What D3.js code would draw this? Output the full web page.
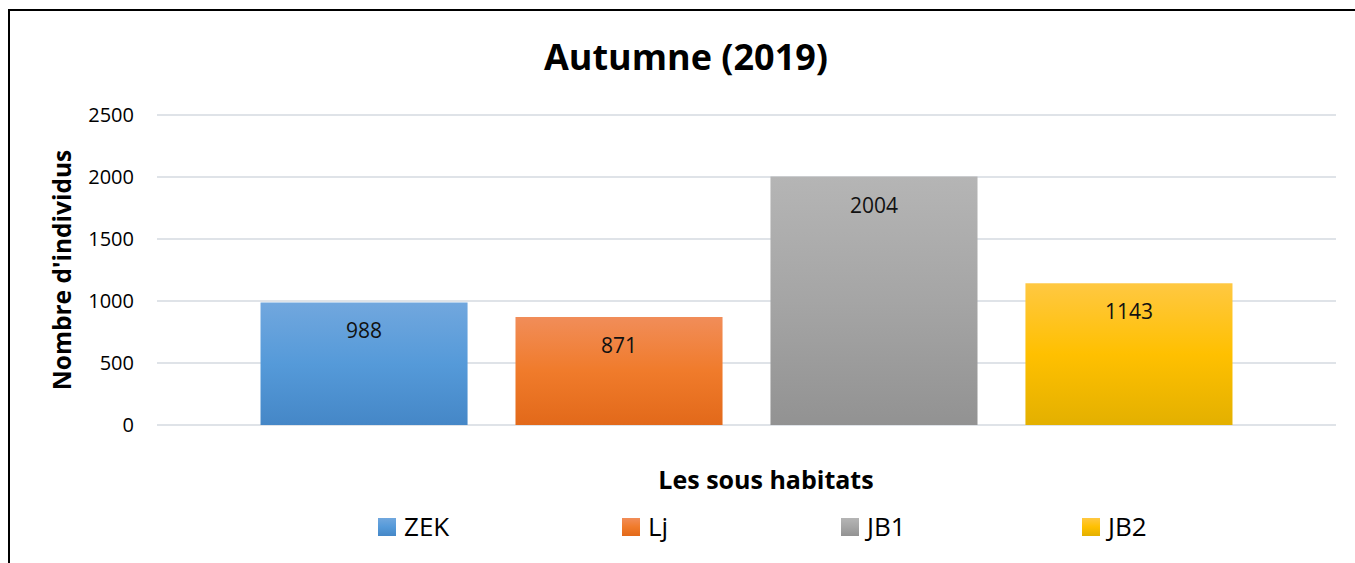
<!DOCTYPE html>
<html>
<head>
<meta charset="utf-8">
<script src="https://cdn.jsdelivr.net/npm/d3@7"></script>
<style>
  html, body { margin: 0; padding: 0; background: #fff; }
  svg { display: block; font-family: "Open Sans", "Liberation Sans", sans-serif; }
</style>
</head>
<body>
<svg id="chart" width="1355" height="563"></svg>
<script>
const categories = [""];
const seriesNames = ["ZEK", "Lj", "JB1", "JB2"];
const seriesValues = [988, 871, 2004, 1143];
const yTicks = [0, 500, 1000, 1500, 2000, 2500];
const titleText = "Autumne (2019)";
const yAxisTitle = "Nombre d'individus";
const xAxisTitle = "Les sous habitats";
const colorStops = [
  ["#71a7de", "#559ad9", "#4587c7"],
  ["#f18d59", "#f07b2b", "#e2691a"],
  ["#b5b5b5", "#a5a5a5", "#929292"],
  ["#ffc842", "#ffc000", "#e3b000"]
];

const svg = d3.select("#chart");
const W = 1355, H = 563;
const plot = {left: 157, right: 1336, top: 115, bottom: 425};

// border
svg.append("rect").attr("x", 9).attr("y", 10).attr("width", W + 20).attr("height", H + 20)
  .attr("fill", "none").attr("stroke", "#000").attr("stroke-width", 2);

const defs = svg.append("defs");
seriesNames.forEach((s, i) => {
  const g = defs.append("linearGradient").attr("id", "grad" + i)
    .attr("x1", 0).attr("y1", 0).attr("x2", 0).attr("y2", 1);
  g.append("stop").attr("offset", "0%").attr("stop-color", colorStops[i][0]);
  g.append("stop").attr("offset", "50%").attr("stop-color", colorStops[i][1]);
  g.append("stop").attr("offset", "100%").attr("stop-color", colorStops[i][2]);
});

const y = d3.scaleLinear().domain([0, 2500]).range([plot.bottom, plot.top]);
const x0 = d3.scaleBand().domain(categories).range([plot.left, plot.right]).padding(0);
const x1 = d3.scaleBand().domain(seriesNames).range([0, x0.bandwidth()])
  .paddingInner(0.188).paddingOuter(0.406);

// gridlines
svg.append("g").selectAll("line").data(yTicks).join("line")
  .attr("x1", plot.left).attr("x2", plot.right)
  .attr("y1", d => y(d)).attr("y2", d => y(d))
  .attr("stroke", "#dfe3e8").attr("stroke-width", 2);

// y axis labels
const yAxis = d3.axisLeft(y).tickValues(yTicks).tickSize(0).tickPadding(0).tickFormat(d3.format("d"));
const ya = svg.append("g").attr("transform", `translate(134,0)`).call(yAxis);
ya.select(".domain").remove();
ya.selectAll("text").attr("font-size", 20).attr("fill", "#000")
  .attr("font-family", "'Open Sans', sans-serif");

// bars
const gCat = svg.append("g").selectAll("g").data(categories).join("g")
  .attr("transform", d => `translate(${x0(d)},0)`);
const data = seriesNames.map((s, i) => ({name: s, value: seriesValues[i], i}));
gCat.selectAll("rect").data(data).join("rect")
  .attr("x", d => x1(d.name)).attr("width", x1.bandwidth())
  .attr("y", d => y(d.value)).attr("height", d => y(0) - y(d.value))
  .attr("fill", d => `url(#grad${d.i})`);
gCat.selectAll("text.lbl").data(data).join("text").attr("class", "lbl")
  .attr("x", d => x1(d.name) + x1.bandwidth() / 2)
  .attr("y", d => y(d.value) + 36)
  .attr("text-anchor", "middle").attr("font-size", 21).attr("fill", "#111")
  .text(d => d.value);

// title
svg.append("text").attr("x", 686).attr("y", 70).attr("text-anchor", "middle")
  .attr("font-size", 36).attr("font-weight", "bold").attr("fill", "#000").text(titleText);

// axis titles
svg.append("text").attr("transform", "translate(71,270) rotate(-90)").attr("text-anchor", "middle")
  .attr("font-size", 24.5).attr("font-weight", "bold").attr("fill", "#000").text(yAxisTitle);
svg.append("text").attr("x", 766).attr("y", 489).attr("text-anchor", "middle")
  .attr("font-size", 25).attr("font-weight", "bold").attr("fill", "#000").text(xAxisTitle);

// legend
const legendX = [378, 622, 841, 1082];
const lg = svg.append("g").selectAll("g").data(data).join("g")
  .attr("transform", (d, i) => `translate(${legendX[i]},518)`);
lg.append("rect").attr("width", 18).attr("height", 18).attr("fill", d => `url(#grad${d.i})`);
lg.append("text").attr("x", 26).attr("y", 18).attr("font-size", 26).attr("fill", "#000")
  .text(d => d.name);
</script>
</body>
</html>
